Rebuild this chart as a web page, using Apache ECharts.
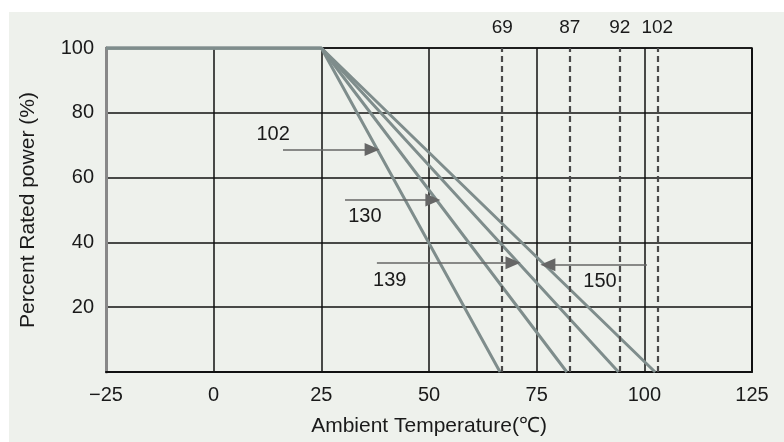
<!DOCTYPE html>
<html>
<head>
<meta charset="utf-8">
<script src="https://cdn.jsdelivr.net/npm/echarts@6/dist/echarts.min.js"></script>
<style>
  html, body { margin: 0; padding: 0; background: #fff; }
  #main { width: 784px; height: 442px; }
</style>
</head>
<body>
<div id="main"></div>
<script>
// derating curves: flat 100% up to 25 C, then straight down to zero
const kneeTemp = 25;
const startTemp = -25;
const zeroTemps = [66.5, 82, 94, 102.5];
const curveNames = ['102', '130', '139', '150'];

// dashed reference lines at the top
const dashTemps = [67, 82.7, 94.3, 103];
const dashLabels = ['69', '87', '92', '102'];

// arrow callouts [fromX, fromY, toX, toY]
const arrowLines = [
    [16.1, 68.7, 36.8, 68.7],
    [30.5, 53.1, 50.9, 53.1],
    [37.9, 33.7, 69.5, 33.7],
    [100.6, 33.1, 77.6, 33.1]
];
// callout texts [x, y, text]
const calloutTexts = [
    [13.8, 73.3, '102'],
    [35.1, 47.9, '130'],
    [40.9, 28.2, '139'],
    [89.7, 27.9, '150']
];

const xTicks = [-25, 0, 25, 50, 75, 100, 125];
const yTicks = [0, 20, 40, 60, 80, 100];

const myChart = echarts.init(document.getElementById('main'));
const lineGrey = '#7f8d8c';
const txtColor = '#1a1a1a';
const fontFamily = '"Liberation Sans", Arial, sans-serif';

let seriesArr = zeroTemps.map((t, i) => {
    return {
        name: curveNames[i],
        type: 'line',
        symbol: 'none',
        silent: true,
        lineStyle: {color: lineGrey, width: 3},
        data: [[startTemp, 100], [kneeTemp, 100], [t, 0]],
        z: 3
    }
});

// dashed verticals + arrows live on helper series
seriesArr.push({
    type: 'line',
    data: [],
    markLine: {
        silent: true,
        symbol: 'none',
        lineStyle: {color: '#4a4a4a', width: 2.2, type: [6, 4]},
        label: {
            show: true,
            position: 'end',
            distance: 11,
            color: txtColor,
            fontSize: 19,
            fontFamily: fontFamily,
            formatter: (p) => dashLabels[p.dataIndex]
        },
        data: dashTemps.map((t) => [{coord: [t, 0]}, {coord: [t, 100]}])
    }
});

// right frame edge
seriesArr.push({
    type: 'line',
    data: [],
    clip: false,
    markLine: {
        silent: true,
        symbol: 'none',
        label: {show: false},
        lineStyle: {color: '#111', width: 2, type: 'solid'},
        data: [[{coord: [xTicks[xTicks.length - 1], 0]}, {coord: [xTicks[xTicks.length - 1], 100]}]]
    }
});

seriesArr.push({
    type: 'line',
    data: [],
    markLine: {
        silent: true,
        symbol: ['none', 'triangle'],
        symbolSize: [13, 15],
        lineStyle: {color: '#666', width: 1.5, type: 'solid'},
        itemStyle: {color: '#3a3a3a'},
        label: {show: false},
        data: arrowLines.map((a) => [{coord: [a[0], a[1]]}, {coord: [a[2], a[3]]}])
    }
});

seriesArr.push({
    type: 'scatter',
    symbolSize: 0,
    silent: true,
    itemStyle: {opacity: 1},
    data: calloutTexts.map((c) => [c[0], c[1]]),
    label: {
        show: true,
        position: 'inside',
        color: txtColor,
        opacity: 1,
        fontSize: 20,
        fontFamily: fontFamily,
        formatter: (p) => calloutTexts[p.dataIndex][2]
    }
});

myChart.setOption({
    backgroundColor: '#fff',
    animation: false,
    graphic: [{
        type: 'rect',
        left: 9, top: 12,
        shape: {width: 775, height: 430},
        style: {fill: '#eef1ec'},
        z: -10
    }],
    grid: {left: 106, right: 32, top: 48, bottom: 68, show: true, borderColor: '#111', borderWidth: 1.5},
    xAxis: {
        type: 'value',
        min: xTicks[0],
        max: xTicks[xTicks.length - 1],
        interval: 25,
        name: 'Ambient Temperature(℃)',
        nameLocation: 'middle',
        nameGap: 44,
        nameTextStyle: {color: txtColor, fontSize: 21, fontFamily: fontFamily},
        axisLine: {show: true, onZero: false, lineStyle: {color: '#111', width: 2}},
        axisTick: {show: false},
        axisLabel: {color: txtColor, fontSize: 20, fontFamily: fontFamily, margin: 13,
            formatter: (v) => v < 0 ? '\u2212' + Math.abs(v) : String(v)},
        splitLine: {show: true, lineStyle: {color: '#111', width: 1.5}}
    },
    yAxis: {
        type: 'value',
        min: yTicks[0],
        max: yTicks[yTicks.length - 1],
        interval: 20,
        name: 'Percent Rated power (%)',
        nameLocation: 'middle',
        nameGap: 67,
        nameTextStyle: {color: txtColor, fontSize: 21, fontFamily: fontFamily},
        axisLine: {show: true, onZero: false, lineStyle: {color: '#888', width: 3}},
        axisTick: {show: false},
        axisLabel: {color: txtColor, fontSize: 20, fontFamily: fontFamily, margin: 12,
            formatter: (v) => v === 0 ? '' : String(v)},
        splitLine: {show: true, lineStyle: {color: '#111', width: 1.5}}
    },
    series: seriesArr
});
window.addEventListener('resize', () => myChart.resize())
</script>
</body>
</html>
